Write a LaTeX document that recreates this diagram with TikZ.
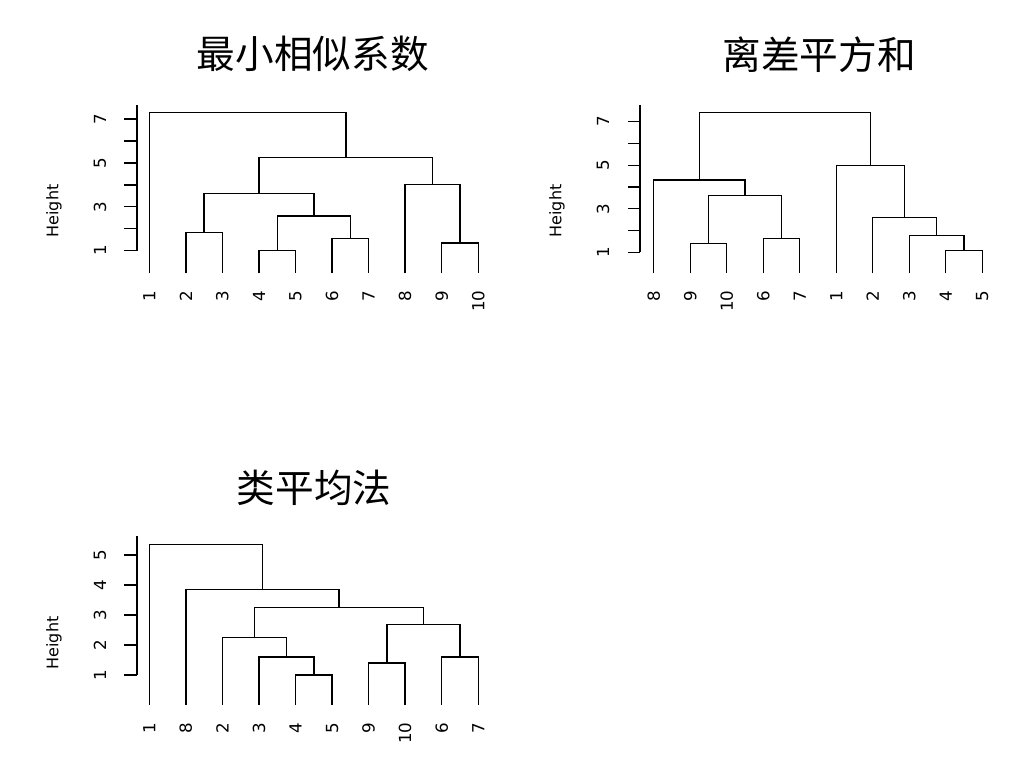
\documentclass[tikz,border=0pt]{standalone}
\usepackage{fontspec}
\setmainfont{DejaVu Sans}
\newfontfamily\cjk{Noto Sans CJK SC}
\usetikzlibrary{positioning}

\begin{document}
\begin{tikzpicture}[x=0.75pt,y=-0.75pt,line width=1.05pt,
          title/.style={font=\cjk\fontsize{29}{29}\selectfont,inner sep=0pt},
          leaf/.style={rotate=90,anchor=east,inner sep=0pt,font=\fontsize{12.5}{12.5}\selectfont},
          ticklab/.style={rotate=90,inner sep=0pt,font=\fontsize{12.5}{12.5}\selectfont},
          ylab/.style={rotate=90,inner sep=0pt,font=\fontsize{12}{12}\selectfont}]
  \fill[white] (0,0) rectangle (1025,766);
  \useasboundingbox (0,0) rectangle (1025,766);

  % 最小相似系数
  \node[title] (ta) at (312.7,54) {最小相似系数};
  \draw (137,105) -- (137,250.7);
  \foreach \h in {1,...,7}
    \draw (124.3,{250.7-21.95*(\h-1)}) -- (137,{250.7-21.95*(\h-1)});
  \foreach \h in {1,3,5,7}
    \node[ticklab] at (100,{250.7-21.95*(\h-1)}) {\h};
  \node[ylab] (ya) at (54,211) {Height};
  \foreach \lab [count=\i] in {1,...,10}{
    \coordinate (a\lab) at ({149.3+36.55*(\i-1)},273.3);
    \node[leaf] (la\lab) at ({149.3+36.55*(\i-1)},290) {\lab};
  }
  \coordinate (a45) at (277.3,250.7);
  \coordinate (a910) at (460,243);
  \coordinate (a67) at (350.3,238.3);
  \coordinate (a23) at (204.1,232.7);
  \coordinate (a47) at (313.8,216);
  \coordinate (a27) at (259,193.7);
  \coordinate (a810) at (432.6,184.7);
  \coordinate (a210) at (345.8,157.7);
  \coordinate (atop) at (247.6,112.7);
  \draw (a4) |- (a45) -| (a5);
  \draw (a9) |- (a910) -| (a10);
  \draw (a6) |- (a67) -| (a7);
  \draw (a2) |- (a23) -| (a3);
  \draw (a45) |- (a47) -| (a67);
  \draw (a23) |- (a27) -| (a47);
  \draw (a8) |- (a810) -| (a910);
  \draw (a27) |- (a210) -| (a810);
  \draw (a1) |- (atop) -| (a210);

  % 离差平方和
  \node[title] (tb) at (819,55) {离差平方和};
  \draw (640,105) -- (640,252.3);
  \foreach \h in {1,...,7}
    \draw (628.3,{252.3-21.77*(\h-1)}) -- (640,{252.3-21.77*(\h-1)});
  \foreach \h in {1,3,5,7}
    \node[ticklab] at (603,{252.3-21.77*(\h-1)}) {\h};
  \node[ylab] (yb) at (557,211) {Height};
  \foreach \lab [count=\i] in {8,9,10,6,7,1,2,3,4,5}{
    \coordinate (b\lab) at ({653.7+36.5*(\i-1)},273.3);
    \node[leaf] (lb\lab) at ({653.7+36.5*(\i-1)},290) {\lab};
  }
  \coordinate (b910) at (708.45,243.3);
  \coordinate (b67) at (781.45,238.3);
  \coordinate (b45) at (963.95,250.7);
  \coordinate (b345) at (936.6,235.7);
  \coordinate (b25) at (904.6,217.3);
  \coordinate (b15) at (870.4,165.3);
  \coordinate (b97) at (744.95,195.3);
  \coordinate (b87) at (699.3,180);
  \coordinate (btop) at (784.9,112.7);
  \draw (b9) |- (b910) -| (b10);
  \draw (b6) |- (b67) -| (b7);
  \draw (b4) |- (b45) -| (b5);
  \draw (b3) |- (b345) -| (b45);
  \draw (b2) |- (b25) -| (b345);
  \draw (b1) |- (b15) -| (b25);
  \draw (b910) |- (b97) -| (b67);
  \draw (b8) |- (b87) -| (b97);
  \draw (b87) |- (btop) -| (b15);

  % 类平均法
  \node[title] (tc) at (314,488) {类平均法};
  \draw (137,536) -- (137,675);
  \foreach \h in {1,...,5}{
    \draw (124.3,{675-30*(\h-1)}) -- (137,{675-30*(\h-1)});
    \node[ticklab] at (100,{675-30*(\h-1)}) {\h};
  }
  \node[ylab] (yc) at (54,643) {Height};
  \foreach \lab [count=\i] in {1,8,2,3,4,5,9,10,6,7}{
    \coordinate (c\lab) at ({149.3+36.55*(\i-1)},705);
    \node[leaf] (lc\lab) at ({149.3+36.55*(\i-1)},722) {\lab};
  }
  \coordinate (c45) at (313.8,675);
  \coordinate (c345) at (286.4,657);
  \coordinate (c25) at (254.4,637.3);
  \coordinate (c910) at (386.9,663);
  \coordinate (c67) at (460,657);
  \coordinate (c97) at (423.4,624.3);
  \coordinate (c27) at (338.9,607.7);
  \coordinate (c87) at (262.4,589.3);
  \coordinate (ctop) at (205.85,544.3);
  \draw (c4) |- (c45) -| (c5);
  \draw (c3) |- (c345) -| (c45);
  \draw (c2) |- (c25) -| (c345);
  \draw (c9) |- (c910) -| (c10);
  \draw (c6) |- (c67) -| (c7);
  \draw (c910) |- (c97) -| (c67);
  \draw (c25) |- (c27) -| (c97);
  \draw (c8) |- (c87) -| (c27);
  \draw (c1) |- (ctop) -| (c87);
\end{tikzpicture}
\end{document}
